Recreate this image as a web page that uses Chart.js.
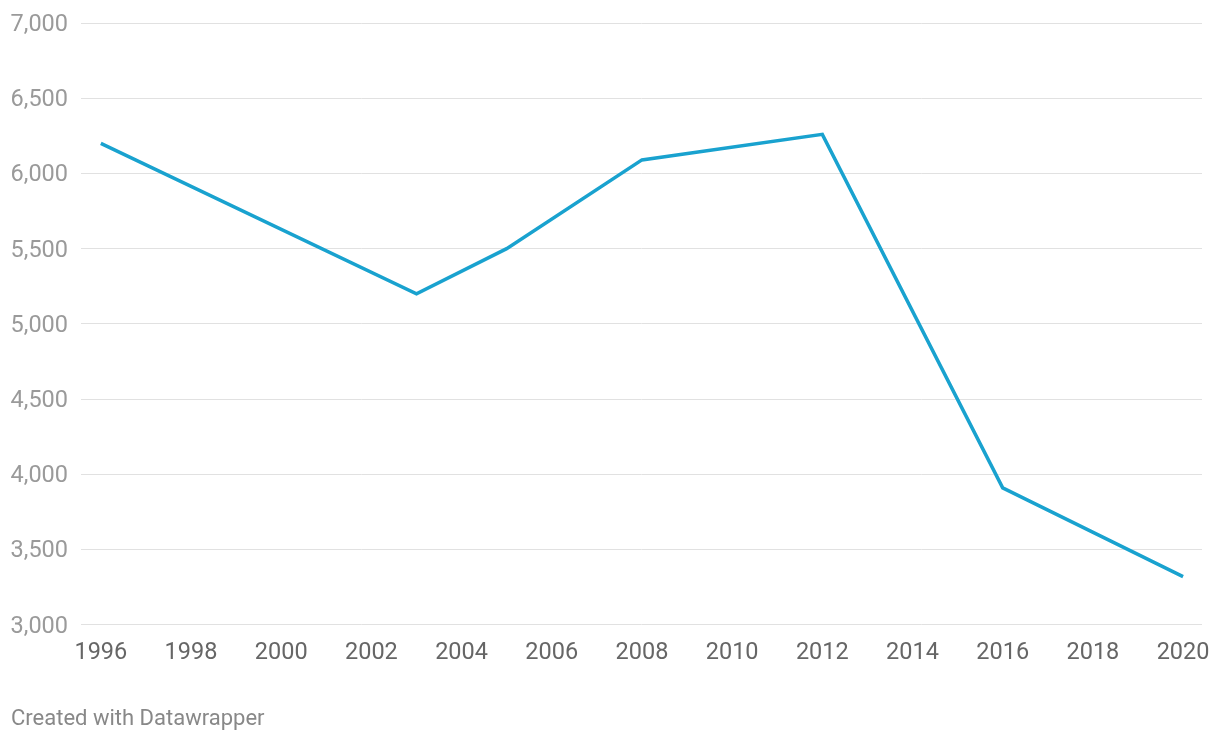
<!DOCTYPE html>
<html>
<head>
<meta charset="utf-8">
<script src="https://cdn.jsdelivr.net/npm/chart.js@4/dist/chart.umd.min.js"></script>
<style>
  html, body { margin: 0; padding: 0; background: #fff; }
  #wrap { position: relative; width: 1220px; height: 740px; }
  #credit { position: absolute; left: 11px; top: 705px; font-family: Roboto, sans-serif; font-size: 22px; color: #888; white-space: nowrap; }
</style>
</head>
<body>
<div id="wrap">
  <canvas id="c" width="1220" height="740"></canvas>
  <div id="credit">Created with Datawrapper</div>
</div>
<script>
const years = [1996, 2003, 2005, 2008, 2012, 2016, 2020];
const values = [6200, 5200, 5500, 6090, 6260, 3910, 3320];
const xTickYears = [1996, 1998, 2000, 2002, 2004, 2006, 2008, 2010, 2012, 2014, 2016, 2018, 2020];
const yTickValues = [3000, 3500, 4000, 4500, 5000, 5500, 6000, 6500, 7000];

new Chart(document.getElementById('c'), {
  type: 'line',
  data: {
    datasets: [{
      data: years.map((y, i) => ({ x: y, y: values[i] })),
      borderColor: '#19a2cf',
      borderWidth: 3.5,
      pointRadius: 0,
      tension: 0,
      fill: false
    }]
  },
  options: {
    responsive: false,
    animation: false,
    layout: { padding: { left: 11, right: 18, top: 23, bottom: 58 } },
    plugins: { legend: { display: false }, tooltip: { enabled: false } },
    scales: {
      x: {
        type: 'linear',
        min: 1995.56,
        max: 2020.42,
        afterBuildTicks: s => { s.ticks = xTickYears.map(v => ({ value: v })); },
        afterFit: s => { s.paddingLeft = 0; s.paddingRight = 0; },
        grid: { display: false, drawTicks: false },
        border: { display: false },
        ticks: {
          padding: 14.5,
          color: '#666',
          font: { family: 'Roboto', size: 23.5 },
          maxRotation: 0,
          autoSkip: false,
          callback: v => String(v)
        }
      },
      y: {
        min: 3000,
        max: 7000,
        afterBuildTicks: s => { s.ticks = yTickValues.map(v => ({ value: v })); },
        afterFit: s => { s.width = 70; s.paddingTop = 0; s.paddingBottom = 0; },
        grid: { color: '#e1e1e1', lineWidth: 1, drawTicks: false },
        border: { display: false },
        ticks: {
          padding: 13,
          labelOffset: 2,
          color: '#9a9a9a',
          font: { family: 'Roboto', size: 23.5 },
          callback: v => v.toLocaleString('en-US')
        }
      }
    }
  }
});
</script>
</body>
</html>
